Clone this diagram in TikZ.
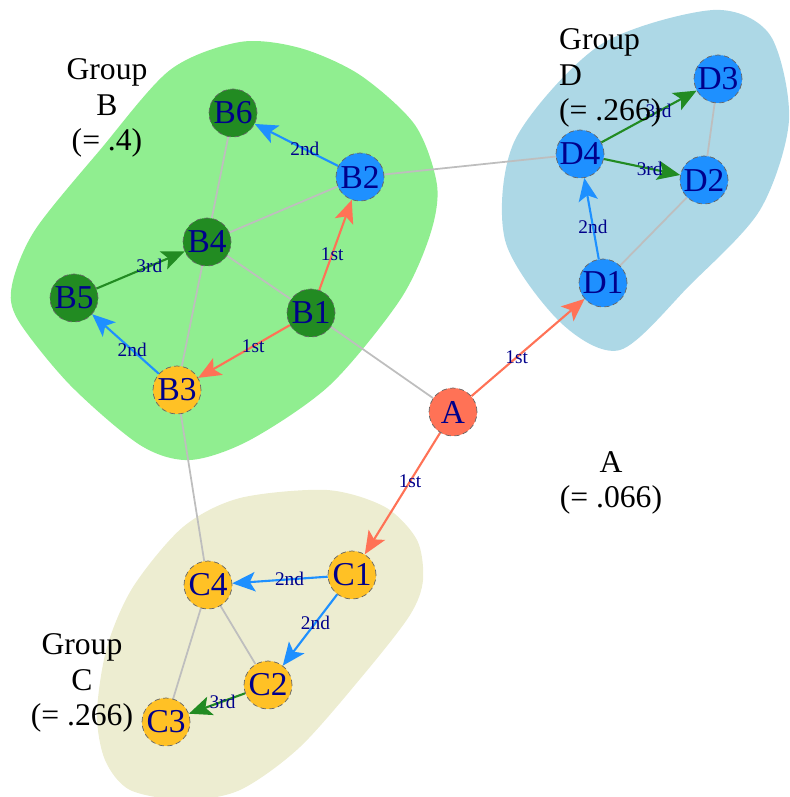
\documentclass[tikz,border=0pt]{standalone}
\usepackage{fontspec}
\setmainfont{Liberation Serif}
\usetikzlibrary{arrows.meta,backgrounds}
\definecolor{gold}{HTML}{FFC125}
\definecolor{leaf}{HTML}{228B22}
\definecolor{sky}{HTML}{1E90FF}
\definecolor{coral}{HTML}{FF7256}
\definecolor{navy}{HTML}{00008B}
\definecolor{hullB}{HTML}{90EE90}
\definecolor{hullC}{HTML}{EDEDD1}
\definecolor{hullD}{HTML}{ADD8E6}
\definecolor{tiegray}{HTML}{BEBEBE}

\begin{document}
\begin{tikzpicture}[x=0.02cm,y=-0.02cm,
  vtx/.style={circle,draw=black!60,densely dashed,line width=.4pt,
    minimum size=0.96cm,inner sep=0pt,text=navy,
    font=\fontsize{19}{19}\selectfont},
  tie/.style={tiegray,line width=1pt},
  hop/.style={line width=1.2pt,-{Stealth[length=13pt,width=11pt,inset=3pt]}},
  lbl/.style={text=navy,font=\fontsize{11}{11}\selectfont,inner sep=0pt},
  grp/.style={align=center,font=\fontsize{18}{20}\selectfont}]
  \useasboundingbox (0,0) rectangle (789,797);

  % vertices, coloured by the order in which they are reached
  \foreach \n/\x/\y/\c in {A/453/412/coral,
      B1/311/313/leaf,B2/360/177/sky,B3/177/390/gold,
      B4/207/242/leaf,B5/74/298/leaf,B6/233/113/leaf,
      C1/352/575/gold,C2/268/685/gold,C3/166/722/gold,C4/208/585/gold,
      D1/603/283/sky,D2/704/180/sky,D3/718/79/sky,D4/580/154/sky}
    \node[vtx,fill=\c] (\n) at (\x,\y) {\n};

  \begin{pgfonlayer}{background}
    % group hulls
    \fill[hullB] plot[smooth cycle] coordinates {
      (240,42) (300,48) (360,75) (415,125) (437,185) (430,235) (400,300)
      (330,385) (250,440) (190,460) (140,445) (70,385) (18,320) (12,285)
      (35,230) (100,150) (170,70)};
    \fill[hullD] plot[smooth cycle] coordinates {
      (713,10) (770,35) (789,120) (760,210) (690,285) (620,350)
      (560,322) (505,240) (515,140) (600,45)};
    \fill[hullC] plot[smooth cycle] coordinates {
      (327,490) (385,507) (417,540) (423,580) (410,615) (365,673)
      (300,747) (240,790) (185,800) (130,790) (105,760) (97,713)
      (107,647) (133,587) (183,527) (240,498)};

    \foreach \u/\v in {B1/A,B2/D4,B2/B4,B4/B1,B4/B6,B4/B3,B3/C4,
        C4/C2,C4/C3,D1/D2,D2/D3}
      \draw[tie] (\u) -- (\v);

    % 1st, 2nd and 3rd steps
    \foreach \u/\v/\c/\t/\p in {A/D1/coral/1st/.4,A/C1/coral/1st/.4,
        B1/B2/coral/1st/.4,B1/B3/coral/1st/.4,
        B2/B6/sky/2nd/.4,B3/B5/sky/2nd/.4,D1/D4/sky/2nd/.4,
        C1/C4/sky/2nd/.4,C1/C2/sky/2nd/.4,
        B5/B4/leaf/3rd/.6,D4/D3/leaf/3rd/.6,D4/D2/leaf/3rd/.6,
        C2/C3/leaf/3rd/.4}
      \draw[hop,\c] (\u) -- (\v) node[lbl,pos=\p] {\t};
  \end{pgfonlayer}

  \node[grp] (labB) at (107,108) {Group\\B\\(= .4)};
  \node[grp,align=left,anchor=west] (labD) at (553,78) {Group\\D\\(= .266)};
  \node[grp] (labC) at (82,683) {Group\\C\\(= .266)};
  \node[grp] (labA) at (611,483) {A\\(= .066)};
\end{tikzpicture}
\end{document}
